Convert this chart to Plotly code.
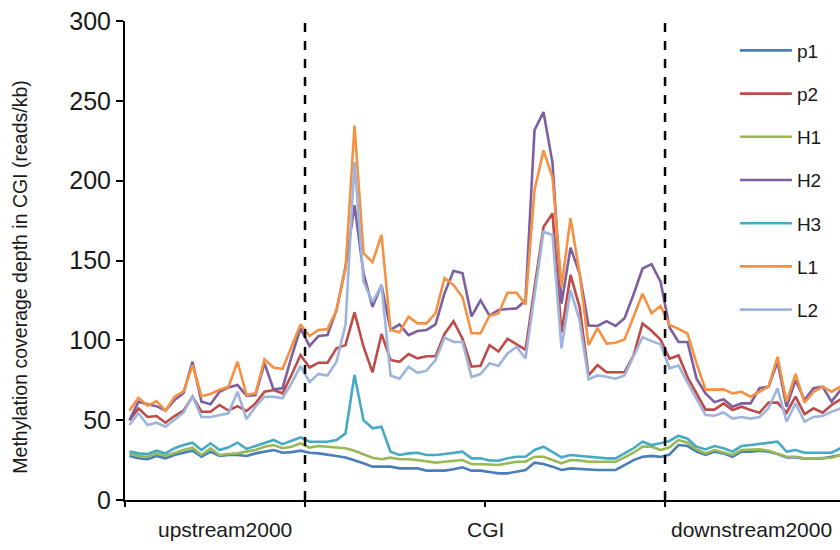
import numpy as np
import plotly.graph_objects as go

# Methylation coverage depth (reads/kb) in 80 bins:
# 20 bins upstream (2 kb), 40 bins across the CGI, 20 bins downstream (2 kb)
p1 = [27.6, 26.1, 25.5, 27.6, 26.1, 28.2, 29.6, 30.9, 27.1, 30.3, 27.6, 28.2, 28.2, 27.6,
      29.2, 30.3, 31.3, 29.6, 30.0, 30.9, 29.6, 29.2, 28.6, 27.6, 26.6, 25.0, 23.0,
      20.9, 20.9, 20.9, 19.8, 19.8, 19.8, 18.4, 18.4, 18.4, 19.2, 20.5, 18.4, 18.4, 17.5,
      16.7, 16.7, 17.7, 18.8, 23.4, 22.5, 20.9, 18.8, 19.8, 19.5, 18.8, 18.8, 18.8, 18.8,
      21.9, 25.0, 27.1, 27.6, 27.0, 28.5,
      34.4, 33.8, 30.3, 28.2, 30.3, 29.2, 27.1, 30.3, 30.3, 30.9, 30.3, 28.8, 26.7, 26.7,
      25.9, 25.9, 26.1, 27.1, 28.2]
p2 = [50.0, 57.4, 52.0, 52.6, 48.4, 52.6, 56.0, 64.7, 55.3, 55.3, 59.5, 56.0, 58.8, 55.8,
      60.5, 67.8, 68.9, 66.8, 78.3, 90.8, 83.0, 86.0, 86.0, 95.0, 97.0, 117.5, 96.0,
      80.0, 104.0, 87.7, 86.6, 91.4, 88.7, 90.0, 90.0, 104.0, 112.0, 101.0, 83.5, 84.0, 97.0,
      93.0, 101.0, 97.5, 94.0, 133.0, 171.0, 179.5, 105.0, 141.0, 121.0, 78.0, 84.5, 80.0, 80.0,
      80.0, 90.5, 110.6, 106.0, 100.5, 88.5,
      90.5, 77.0, 66.8, 56.6, 56.6, 60.5, 56.4, 58.4, 56.4, 54.7, 61.0, 61.0, 54.7, 64.7,
      53.8, 57.4, 54.7, 59.5, 63.0]
h1 = [29.2, 27.6, 27.1, 29.2, 27.6, 29.6, 31.3, 32.8, 28.2, 32.4, 28.2, 28.8, 29.2, 30.3,
      31.3, 33.4, 34.4, 32.4, 33.4, 35.5, 32.8, 33.8, 33.4, 33.0, 32.4, 30.8, 28.7,
      26.5, 25.5, 26.5, 25.5, 25.5, 25.0, 24.0, 23.4, 24.0, 24.6, 25.0, 22.5, 22.5, 22.2,
      21.9, 23.0, 24.0, 24.0, 27.1, 27.1, 25.0, 23.0, 25.0, 24.8, 24.0, 24.0, 24.0, 24.0,
      26.7, 29.6, 33.4, 33.4, 31.3, 33.0,
      37.6, 35.9, 31.7, 29.2, 31.3, 29.6, 28.2, 31.3, 31.3, 31.7, 30.9, 29.2, 27.1, 27.1,
      26.1, 26.1, 26.1, 26.5, 28.2]
h2 = [50.0, 61.6, 60.0, 58.8, 56.0, 62.6, 66.8, 86.6, 61.6, 60.0, 67.8, 70.5, 72.0, 65.4,
      65.7, 85.6, 69.3, 70.0, 89.7, 107.5, 96.4, 102.7, 103.3, 119.0, 146.0, 184.7, 142.0,
      121.0, 134.6, 106.5, 110.0, 103.3, 105.8, 106.5, 110.0, 129.4, 143.6, 142.0, 115.0, 125.0, 115.5,
      119.0, 119.6, 120.0, 125.0, 231.7, 243.0, 211.0, 123.0, 158.0, 142.0, 109.3, 109.0, 112.0, 109.0,
      113.8, 128.7, 145.0, 147.7, 136.7, 108.0,
      99.0, 99.0, 76.0, 66.7, 61.3, 63.1, 58.4, 60.5, 60.5, 70.0, 71.0, 86.6, 58.4, 75.0,
      62.6, 70.0, 71.0, 61.6, 68.9]
h3 = [30.3, 29.2, 28.8, 30.9, 29.2, 32.4, 34.4, 35.9, 31.3, 35.5, 31.3, 33.0, 35.9, 32.0,
      33.8, 35.9, 37.6, 35.0, 37.0, 39.2, 36.5, 36.5, 36.5, 37.6, 41.7, 78.3, 50.0,
      44.9, 45.9, 30.3, 28.2, 29.2, 29.6, 28.2, 28.2, 28.8, 29.6, 30.3, 26.1, 26.1, 24.8,
      24.6, 26.1, 27.1, 27.1, 31.3, 33.4, 30.3, 26.7, 28.2, 27.6, 27.1, 26.5, 26.1, 26.1,
      29.2, 32.4, 36.5, 34.4, 35.5, 37.0,
      40.3, 38.4, 33.4, 31.7, 33.8, 32.4, 30.3, 33.8, 34.4, 35.0, 35.5, 36.5, 30.3, 31.3,
      29.6, 29.6, 29.2, 29.6, 32.4]
l1 = [56.0, 64.0, 59.0, 62.0, 56.0, 64.5, 68.0, 84.5, 65.0, 66.4, 69.0, 71.0, 86.6, 65.7,
      66.8, 88.0, 83.0, 82.0, 96.0, 110.0, 102.7, 106.5, 107.0, 119.0, 145.0, 234.5, 154.6,
      149.0, 166.0, 106.5, 105.0, 114.8, 110.6, 110.6, 117.0, 139.0, 134.6, 127.0, 104.4, 104.4, 115.3,
      117.0, 129.8, 129.8, 122.5, 194.0, 219.0, 202.0, 133.6, 176.5, 142.0, 97.0, 107.6, 98.0, 98.5,
      100.6, 114.8, 129.2, 117.0, 121.5, 109.6,
      107.2, 104.2, 85.6, 69.1, 69.3, 69.3, 66.8, 67.8, 64.7, 67.8, 71.0, 89.7, 61.6, 79.0,
      61.0, 67.8, 71.0, 67.8, 71.0]
l2 = [47.0, 54.3, 47.0, 48.4, 45.9, 50.5, 54.7, 65.0, 52.0, 52.0, 53.2, 54.3, 67.8, 50.7,
      58.4, 64.7, 64.7, 63.7, 73.0, 83.9, 74.0, 79.0, 78.0, 86.6, 110.0, 211.8, 136.7,
      124.0, 134.6, 78.0, 76.0, 83.5, 79.7, 81.0, 87.7, 101.8, 99.0, 99.0, 77.0, 78.9, 85.6,
      84.0, 91.8, 96.0, 88.7, 129.4, 168.0, 166.0, 95.0, 131.5, 112.7, 75.6, 78.0, 77.2, 76.0,
      78.0, 89.7, 102.0, 99.5, 97.5, 82.5,
      84.2, 73.5, 63.6, 53.2, 52.8, 54.8, 51.0, 52.0, 51.0, 52.0, 57.4, 70.0, 49.0, 60.5,
      49.0, 52.0, 52.6, 55.3, 57.4]

series_names = ["p1", "p2", "H1", "H2", "H3", "L1", "L2"]
series_values = [p1, p2, h1, h2, h3, l1, l2]
series_colors = ["#4a7ebb", "#be4b48", "#98b954", "#7d5fa0", "#46aac4", "#f59143", "#9db5dc"]

# region layout in bins
region_labels = ["upstream2000", "CGI", "downstream2000"]
region_label_pos = [11.1, 40.1, 69.6]
region_bounds = [20, 60]
y_ticks = [0, 50, 100, 150, 200, 250, 300]
y_title = "Methylation coverage depth in CGI (reads/kb)"

x = np.arange(len(p1)) + 0.5
font_family = "Arial, 'Liberation Sans', sans-serif"
text_color = "#1a1a1a"

fig = go.Figure()
for i, (name, vals, col) in enumerate(zip(series_names, series_values, series_colors)):
    fig.add_trace(go.Scatter(
        x=x, y=vals, mode="lines", name=name,
        line=dict(color=col, width=2.6),
        legendgroup=f"g{i}",
    ))

for b in region_bounds:
    fig.add_shape(type="line", xref="x", yref="paper", x0=b, x1=b, y0=0, y1=1,
                  line=dict(color="black", width=2.5, dash="dash"), layer="above")

for lab, pos in zip(region_labels, region_label_pos):
    fig.add_annotation(text=lab, x=pos, xref="x", y=-0.0626, yref="paper",
                       showarrow=False, xanchor="center", yanchor="middle",
                       font=dict(size=21, color=text_color, family=font_family))

# y-axis title placed as a rotated annotation
fig.add_annotation(text=y_title, textangle=-90, x=-0.147, xref="paper", xanchor="center",
                   y=0.466, yref="paper", yanchor="middle", showarrow=False,
                   font=dict(size=19.5, color=text_color, family=font_family))

fig.update_layout(
    width=840, height=550,
    margin=dict(l=125, r=0, t=21, b=50),
    paper_bgcolor="white", plot_bgcolor="white",
    font=dict(family=font_family, color=text_color),
    showlegend=True,
    legend=dict(
        x=0.853, y=0.978, xanchor="left", yanchor="top",
        bgcolor="rgba(255,255,255,0)", borderwidth=0,
        font=dict(size=19, color=text_color, family=font_family),
        tracegroupgap=15.5, itemwidth=52,
    ),
    xaxis=dict(
        range=[0, 79.44], showgrid=False, zeroline=False,
        showline=True, linecolor="black", linewidth=2,
        tickvals=[0, 20, 40, 60, 80], ticks="outside", ticklen=5,
        tickwidth=2, tickcolor="black", showticklabels=False,
    ),
    yaxis=dict(
        range=[0, 300], tickvals=y_ticks, showgrid=False, zeroline=False,
        showline=True, linecolor="black", linewidth=2,
        ticks="outside", ticklen=7, tickwidth=2, tickcolor="black",
        tickfont=dict(size=25, color=text_color, family=font_family),
    ),
)

fig.write_html("out.html")
